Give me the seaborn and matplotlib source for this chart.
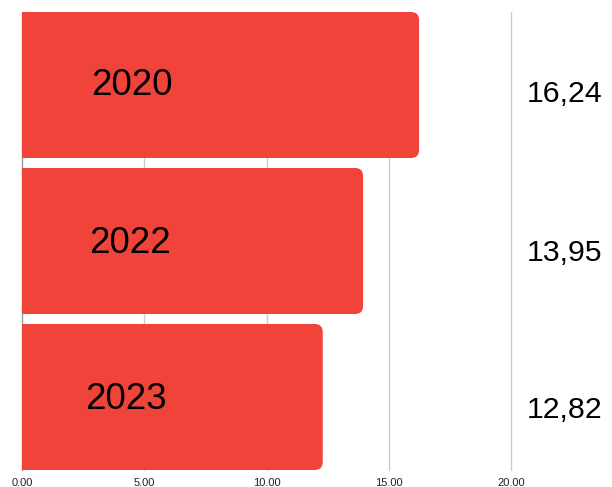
import matplotlib
matplotlib.use("Agg")
import matplotlib.pyplot as plt
import seaborn as sns
import pandas as pd
from matplotlib.patches import FancyBboxPatch

years = ["2020", "2022", "2023"]
bar_values = [16.24, 13.95, 12.3]
value_labels = ["16,24", "13,95", "12,82"]
year_label_x = [4.5, 4.4, 4.25]
x_ticks = [0, 5, 10, 15, 20]
x_tick_labels = ["0.00", "5.00", "10.00", "15.00", "20.00"]

df = pd.DataFrame({"year": years, "value": bar_values})

sns.set_theme(style="white")
plt.rcParams['font.family'] = ['Liberation Sans', 'DejaVu Sans']

W, H = 612, 487
fig = plt.figure(figsize=(W/100, H/100), dpi=100)
ax = fig.add_axes([22/W, 17/H, (511-22)/W, (470-12)/H])

color = "#F0433A"
slot_px = 156
h = 146/slot_px
sns.barplot(data=df, x="value", y="year", orient="h", color=color, width=h,
            ax=ax, saturation=1, zorder=2)

ax.set_xlim(0, 20)
ax.set_ylim(2 + h/2, -h/2)

# replace bars by right-rounded bars
px_per_x = (511-22)/20
r = 8/px_per_x
aspect = (8/slot_px)/r
for p in list(ax.patches):
    x0, y0 = p.get_x(), p.get_y()
    w, hh = p.get_width(), p.get_height()
    p.remove()
    fb = FancyBboxPatch((x0 - 1, y0), w + 1, hh,
                        boxstyle=f"round,pad=0,rounding_size={r}",
                        mutation_aspect=aspect, facecolor=color,
                        edgecolor="none", zorder=2)
    ax.add_patch(fb)

def py_to_y(py):
    return (py - 12)/slot_px - h/2

year_baseline_px = [95, 252.5, 409.3]
value_baseline_px = [101.7, 260.7, 417.7]
for i, yr in enumerate(years):
    ax.text(year_label_x[i], py_to_y(year_baseline_px[i]), yr, ha="center",
            va="baseline", fontsize=26.5, color="black", zorder=3)
    ax.text(20 + (602-511)/px_per_x, py_to_y(value_baseline_px[i]),
            value_labels[i], ha="right", va="baseline",
            fontsize=21.8, color="black", clip_on=False, zorder=3)

for xt in x_ticks:
    ax.axvline(xt, color="#999999" if xt == 0 else "#cccccc", lw=1,
               zorder=1, clip_on=False)

ax.set_xticks(x_ticks)
ax.set_xticklabels(x_tick_labels, fontsize=8, color="#222222")
ax.set_yticks([])
ax.set_xlabel("")
ax.set_ylabel("")
ax.tick_params(axis="x", length=0, pad=6)
for s in ax.spines.values():
    s.set_visible(False)
ax.grid(False)

fig.savefig("out.png", dpi=100)
